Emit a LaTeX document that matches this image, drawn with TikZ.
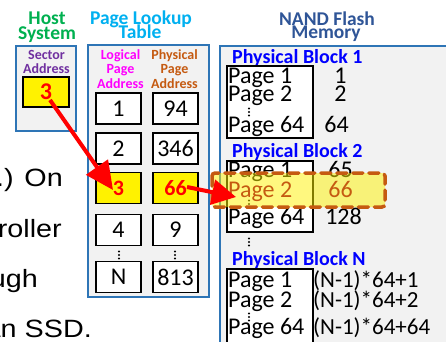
\documentclass[tikz,border=0pt]{standalone}
\usepackage{fontspec}
\setmainfont{Carlito}
\newfontfamily\slidefont{Liberation Sans}
\usetikzlibrary{arrows.meta}

\definecolor{hostgreen}{RGB}{0,176,80}
\definecolor{tblblue}{RGB}{0,176,240}
\definecolor{nandblue}{RGB}{47,85,151}
\definecolor{secpurple}{RGB}{112,48,160}
\definecolor{lpmag}{RGB}{255,0,255}
\definecolor{pporange}{RGB}{197,90,17}
\definecolor{blkblue}{RGB}{0,0,255}
\definecolor{panelline}{RGB}{46,117,182}
\definecolor{panelfill}{RGB}{242,242,242}

\tikzset{
  panel/.style={draw=panelline, line width=1.4pt, fill=panelfill},
  cell/.style={draw=black, line width=1.3pt, fill=white, minimum width=45pt,
    minimum height=31pt, inner sep=0pt, font=\fontsize{24}{24}\selectfont},
  hotcell/.style={cell, fill=yellow, text=red, font=\bfseries\fontsize{22}{22}\selectfont},
  title/.style={font=\bfseries\fontsize{19.5}{19.5}\selectfont, inner sep=0pt, anchor=base},
  colhead/.style={font=\bfseries\fontsize{14}{14}\selectfont, inner sep=0pt, anchor=base},
  pagetxt/.style={font=\fontsize{24}{24}\selectfont, inner sep=0pt, anchor=base west},
  numtxt/.style={font=\fontsize{24}{24}\selectfont, inner sep=0pt, anchor=base},
  formtxt/.style={font=\fontsize{23}{23}\selectfont, inner sep=0pt, anchor=base west},
  blklabel/.style={font=\bfseries\fontsize{20}{20}\selectfont, text=blkblue,
    inner sep=0pt, anchor=base west},
  blkbox/.style={draw=black, line width=1.3pt, fill=white},
  slidetxt/.style={font=\slidefont\fontsize{25}{25}\selectfont, inner sep=0pt, anchor=base east},
  bigarrow/.style={draw=red, line width=4pt},
  threedots/.pic={\fill (0,-3.5) circle (1.1pt); \fill (0,0) circle (1.1pt);
    \fill (0,3.5) circle (1.1pt);}
}

\begin{document}
\begin{tikzpicture}[x=1pt,y=-1pt]
\useasboundingbox (0,0) rectangle (446,341);
\clip (0,0) rectangle (446,341);

% slide text running behind the figure
\node[slidetxt] (s1) at (63,186) {\scalebox{1.15}[1]{.) On}};
\node[slidetxt] (s2) at (62,237) {\scalebox{1.15}[1]{roller}};
\node[slidetxt] (s3) at (38,287) {\scalebox{1.15}[1]{ugh}};
\node[slidetxt] (s4) at (92,337) {\scalebox{1.15}[1]{an SSD.}};

% panels
\draw[panel] (16,46) rectangle (76,131);
\draw[panel] (88,45) rectangle (209,297);
\draw[panel] (220,46) rectangle (470,370);

% titles
\node[title, text=hostgreen] (th1) at (47,24) {Host};
\node[title, text=hostgreen] (th2) at (47,39) {System};
\node[title, text=tblblue] (tt1) at (141,24) {Page Lookup};
\node[title, text=tblblue] (tt2) at (140,38) {Table};
\node[title, text=nandblue] (tn1) at (327,25) {NAND Flash};
\node[title, text=nandblue] (tn2) at (326,38) {Memory};

% host system
\node[colhead, text=secpurple] (hs1) at (46.5,59) {Sector};
\node[colhead, text=secpurple] (hs2) at (46.5,73) {Address};
\node[cell, fill=yellow, text=red, minimum width=46pt, minimum height=30pt,
  font=\bfseries\fontsize{24}{24}\selectfont] (hval) at (46,92) {3};

% lookup table
\node[colhead, text=lpmag] (lh1) at (120.5,59) {Logical};
\node[colhead, text=lpmag] (lh2) at (120.5,73) {Page};
\node[colhead, text=lpmag] (lh3) at (120.5,88) {Address};
\node[colhead, text=pporange] (ph1) at (174.5,59) {Physical};
\node[colhead, text=pporange] (ph2) at (174.5,73) {Page};
\node[colhead, text=pporange] (ph3) at (174.5,88) {Address};

\node[cell] (l1) at (118.5,108.5) {1};
\node[cell] (p1) at (175.5,108.5) {94};
\node[cell] (l2) at (118.5,148.5) {2};
\node[cell] (p2) at (175.5,148.5) {346};
\node[hotcell] (l3) at (118.5,188) {3};
\node[hotcell] (p3) at (175.5,188) {66};
\node[cell] (l4) at (118.5,230) {4};
\node[cell] (p4) at (175.5,230) {9};
\node[cell] (lN) at (118.5,277) {N};
\node[cell] (pN) at (175.5,277) {813};
\pic at (119,255) {threedots};
\pic at (175,255) {threedots};

% physical block 1
\node[blklabel] (b1) at (232,63) {Physical Block 1};
\draw[blkbox] (227,66) rectangle (313,138);
\node[pagetxt] (b1p1) at (228,83) {Page 1};
\node[pagetxt] (b1p2) at (228,101) {Page 2};
\pic at (249,112) {threedots};
\node[pagetxt] (b1p64) at (228,132) {Page 64};
\node[numtxt] (b1n1) at (340.5,83) {1};
\node[numtxt] (b1n2) at (340.5,101) {2};
\node[numtxt] (b1n64) at (336.5,132) {64};

% physical block 2
\node[blklabel] (b2) at (232,157) {Physical Block 2};
\draw[blkbox] (227,161) rectangle (313,232);
\node[pagetxt] (b2p1) at (228,177) {Page 1};
\pic at (249,204) {threedots};
\node[pagetxt] (b2p64) at (228,224) {Page 64};
\node[numtxt] (b2n1) at (340.5,177) {65};
\node[numtxt] (b2n64) at (343.5,224) {128};
\pic at (249,242) {threedots};

% highlighted page
\draw[draw=pporange, line width=3.5pt, dash pattern=on 10pt off 6pt, line cap=round,
  rounded corners=3pt, fill=yellow, fill opacity=0.5] (212,173) rectangle (385,207);
\node[pagetxt, text=pporange] (b2p2) at (228,197) {Page 2};
\node[numtxt, text=pporange] (b2n2) at (340.5,197) {66};

% physical block N
\node[blklabel] (bN) at (232,265) {Physical Block N};
\draw[blkbox] (227,269) rectangle (313,360);
\node[pagetxt] (bNp1) at (228,287) {Page 1};
\node[pagetxt] (bNp2) at (228,307) {Page 2};
\pic at (249,317) {threedots};
\node[pagetxt] (bNp64) at (228,334) {Page 64};
\node[formtxt] (bNn1) at (313,287) {(N-1)*64+1};
\node[formtxt] (bNn2) at (313,307) {(N-1)*64+2};
\node[formtxt] (bNn64) at (313,334) {(N-1)*64+64};

% lookup arrows
\coordinate (a1s) at (50,100);
\coordinate (a1e) at (113,190);
\coordinate (a2s) at (187,187);
\coordinate (a2e) at (236,197);
\draw[bigarrow, -{Triangle[length=28pt,width=26pt]}] (a1s) -- (a1e);
\draw[bigarrow, -{Triangle[length=24pt,width=25pt]}] (a2s) -- (a2e);
\end{tikzpicture}
\end{document}
